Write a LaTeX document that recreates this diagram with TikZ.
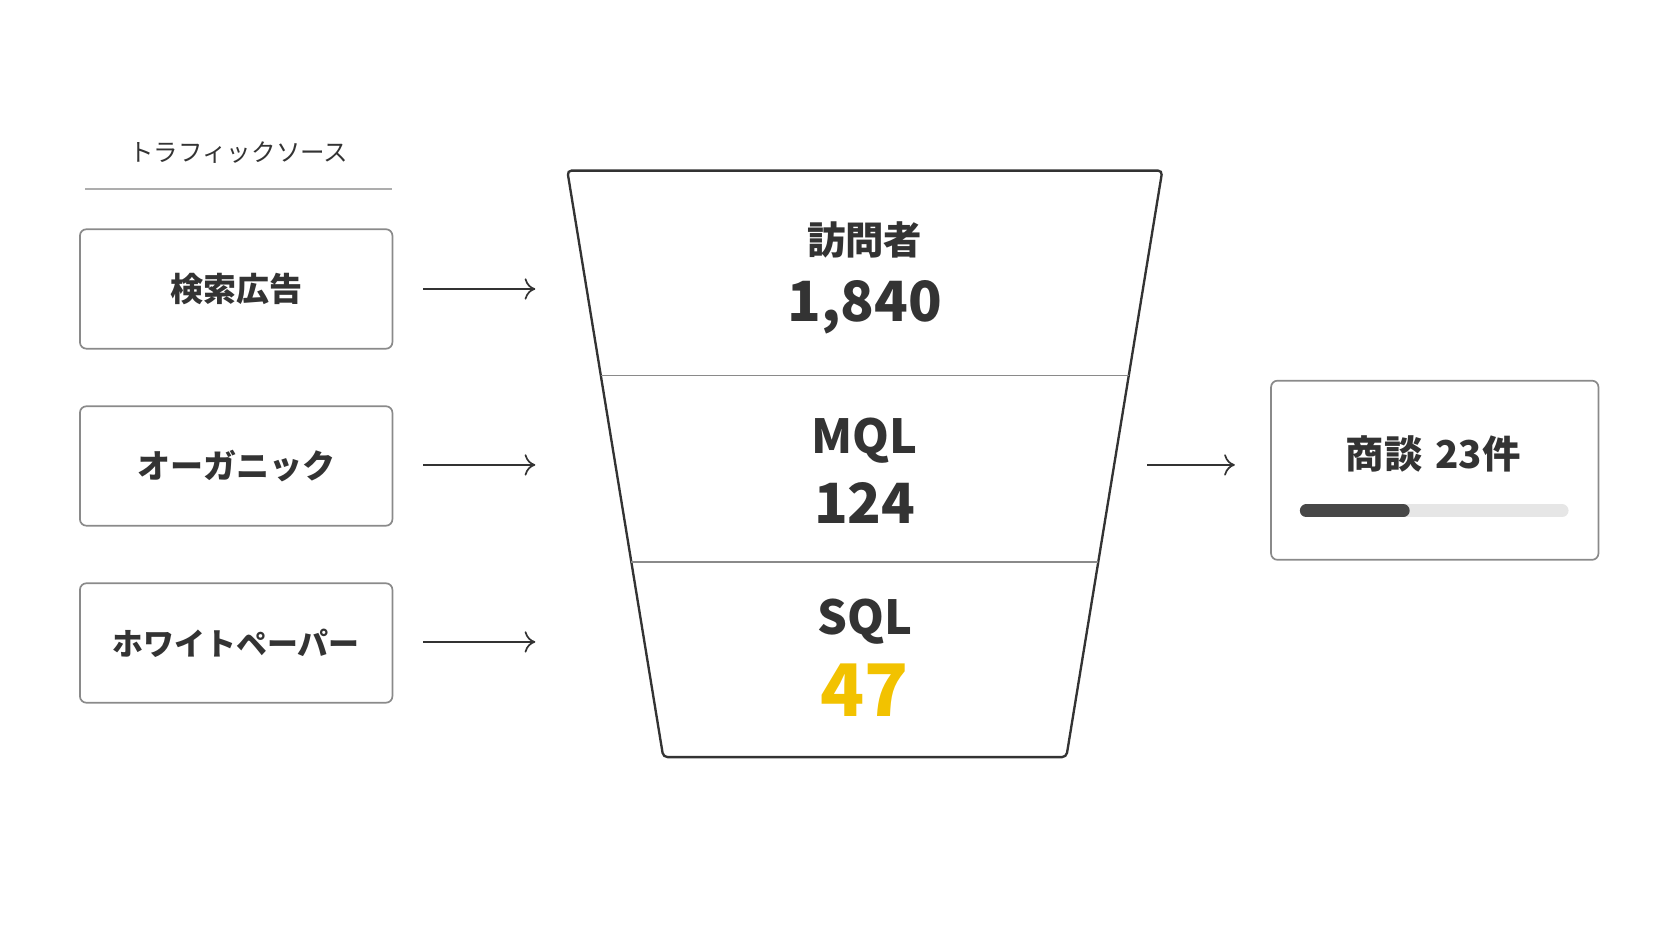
\documentclass[tikz,border=0pt]{standalone}
\usepackage{fontspec}
\usetikzlibrary{arrows.meta}
\setmainfont{Noto Sans CJK JP}
\definecolor{ink}{HTML}{333333}
\definecolor{frame}{HTML}{8A8A8A}
\definecolor{gold}{HTML}{F2C200}
\definecolor{track}{HTML}{E6E6E6}
\tikzset{
  srcbox/.style={draw=frame, line width=1.6pt, rounded corners=6pt, minimum width=293pt, minimum height=112pt, font=\fontsize{31}{36}\selectfont\bfseries, text=ink},
  flow/.style={-{To[length=10pt, width=20pt, line width=1.6pt]}, line width=1.6pt, draw=ink},
  label/.style={font=\fontsize{36}{42}\selectfont\bfseries, text=ink},
  count/.style={font=\fontsize{52}{58}\selectfont\bfseries, text=ink}
}
\begin{document}
\begin{tikzpicture}[x=1pt,y=-1pt]
			\useasboundingbox (0,0) rectangle (1568,882);
			\node[font=\fontsize{23}{28}\selectfont, text=ink] (head)at(224, 143) {トラフィックソース};
			\draw[frame!70, line width=1.6pt] (80,177) -- (368,177);
			\node[srcbox] (ad)at(221.5, 271) {検索広告};
			\node[srcbox] (org)at(221.5, 437) {オーガニック};
			\node[srcbox, font=\fontsize{29}{34}\selectfont\bfseries] (wp)at(221.5, 603) {ホワイトペーパー};
			\coordinate (in1)at(502, 271);
			\coordinate (in2)at(502, 436);
			\coordinate (in3)at(502, 602);
			\draw[flow] (397,271) -- (in1);
			\draw[flow] (397,436) -- (in2);
			\draw[flow] (397,602) -- (in3);
			% funnel
			\draw[ink, line width=2.2pt, rounded corners=4pt] (532,160) -- (1090,160) -- (1000,710) -- (622,710) -- cycle;
			\draw[frame, line width=1.4pt] (563.4,352) -- (1058.6,352);
			\draw[frame, line width=1.4pt] (592,527) -- (1030,527);
			\node[label] (vis)at(811, 225) {訪問者};
			\node[count] (visn)at(811, 288) {1,840};
			\node[label, font=\fontsize{44}{50}\selectfont\bfseries] (mql)at(811, 413) {MQL};
			\node[count] (mqln)at(811, 472) {124};
			\node[label, font=\fontsize{44}{50}\selectfont\bfseries] (sql)at(811, 583) {SQL};
			\node[count, text=gold, font=\fontsize{68}{74}\selectfont\bfseries] (sqln)at(811, 647) {47};
			% result
			\node[draw=frame, line width=1.6pt, rounded corners=6pt, minimum width=307pt, minimum height=168pt] (deal)at(1345.5, 441) {};
			\node[font=\fontsize{36}{42}\selectfont\bfseries, text=ink] (dealt)at(1344, 426) {商談\,\,23件};
			\coordinate (out)at(1158, 436);
			\draw[flow] (1076,436) -- (out);
			\draw[track, line width=12pt, line cap=round] (1225,479) -- (1465,479);
			\draw[ink!90, line width=12pt, line cap=round] (1225,479) -- (1316,479);
		\end{tikzpicture}
\end{document}
